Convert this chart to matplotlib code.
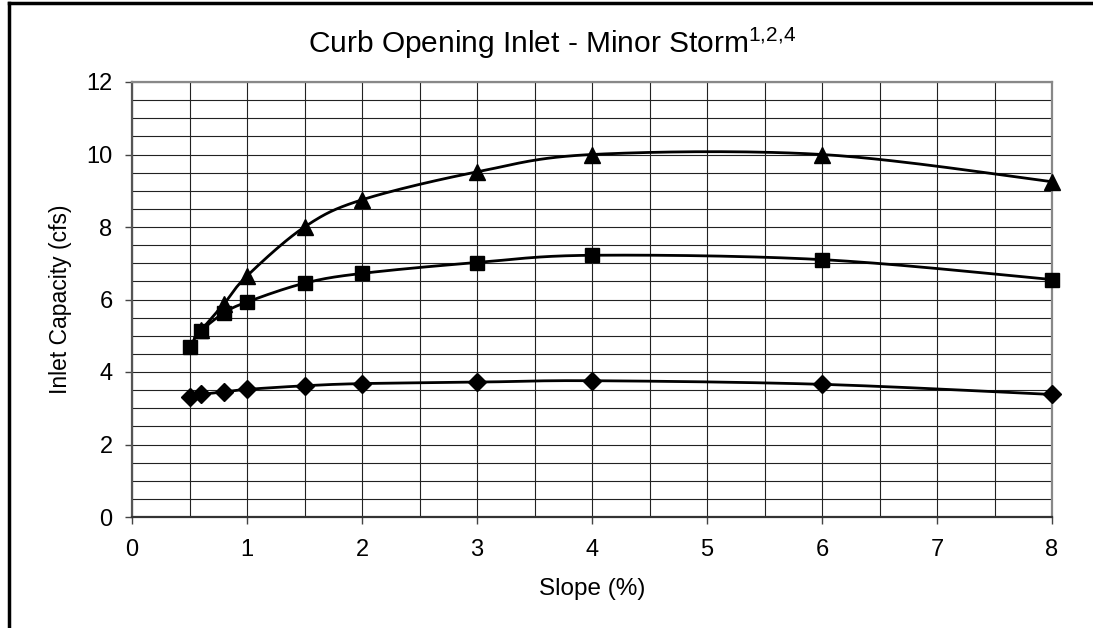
import numpy as np
import matplotlib.pyplot as plt
from matplotlib.lines import Line2D

plt.rcParams['font.family'] = ['Liberation Sans', 'DejaVu Sans']
plt.rcParams['mathtext.fontset'] = 'custom'
plt.rcParams['mathtext.rm'] = 'Liberation Sans'
plt.rcParams['mathtext.it'] = 'Liberation Sans'

# data
slope_diamond = [0.5, 0.6, 0.8, 1, 1.5, 2, 3, 4, 6, 8]
cap_diamond = [3.30, 3.38, 3.45, 3.52, 3.62, 3.68, 3.72, 3.76, 3.66, 3.38]

slope_square = [0.5, 0.6, 0.8, 1, 1.5, 2, 3, 4, 6, 8]
cap_square = [4.70, 5.13, 5.63, 5.93, 6.45, 6.72, 7.02, 7.22, 7.10, 6.55]

slope_tri = [0.6, 0.8, 1, 1.5, 2, 3, 4, 6, 8]
cap_tri = [5.15, 5.88, 6.65, 8.00, 8.75, 9.52, 10.0, 10.0, 9.25]

x_ticks = [0, 1, 2, 3, 4, 5, 6, 7, 8]
y_ticks = [0, 2, 4, 6, 8, 10, 12]

W, H = 1093, 628
fig = plt.figure(figsize=(W / 100, H / 100), dpi=100)
ax = fig.add_axes([132 / W, 1 - 517 / H, 920 / W, 435 / H])

# excel-like smoothed line (bezier through the points, in screen scale)
def smooth(xs, ys, sx=115.0, sy=36.25, n=30):
    p = np.column_stack([np.array(xs) * sx, np.array(ys) * sy])
    out = []
    for i in range(len(p) - 1):
        p0 = p[i - 1] if i > 0 else p[i]
        p1, p2 = p[i], p[i + 1]
        p3 = p[i + 2] if i + 2 < len(p) else p[i + 1]
        c1 = p1 + (p2 - p0) / 6
        c2 = p2 - (p3 - p1) / 6
        t = np.linspace(0, 1, n)[:, None]
        seg = (1 - t) ** 3 * p1 + 3 * (1 - t) ** 2 * t * c1 + 3 * (1 - t) * t ** 2 * c2 + t ** 3 * p2
        out.append(seg if i == 0 else seg[1:])
    out = np.vstack(out)
    return out[:, 0] / sx, out[:, 1] / sy

for xs, ys, mk, ms in [(slope_diamond, cap_diamond, 'D', 9),
                       (slope_square, cap_square, 's', 10),
                       (slope_tri, cap_tri, '^', 11)]:
    sx_, sy_ = smooth(xs, ys)
    ax.plot(sx_, sy_, color='black', lw=2, zorder=3, clip_on=False)
    ax.plot(xs, ys, ls='none', marker=mk, ms=ms, color='black', zorder=4, clip_on=False)

ax.set_xlim(0, 8)
ax.set_ylim(0, 12)
ax.set_xticks(x_ticks)
ax.set_yticks(y_ticks)
ax.set_xticks(np.arange(0, 8.01, 0.5), minor=True)
ax.set_yticks(np.arange(0, 12.01, 0.5), minor=True)
ax.grid(which='both', color='#222222', lw=0.8)
ax.set_axisbelow(True)
ax.tick_params(which='minor', length=0)
ax.tick_params(which='major', direction='out', length=5, width=1, color='#444444',
               labelsize=17)
ax.tick_params(axis='y', pad=9)
ax.tick_params(axis='x', pad=11)
ax.spines['left'].set_color('#555555')
ax.spines['bottom'].set_color('#333333')
ax.spines['top'].set_color('#888888')
ax.spines['right'].set_color('#888888')
for s in ax.spines.values():
    s.set_linewidth(1.6)

ax.set_xlabel('Slope (%)', fontsize=17.5, labelpad=12)
ax.set_ylabel('Inlet Capacity (cfs)', fontsize=16.5, labelpad=10)
fig.text(0.505, 1 - 43 / H, 'Curb Opening Inlet - Minor Storm$^{1{,}2{,}4}$',
         ha='center', va='center', fontsize=21.5)

# frame around the chart (top and left visible)
fig.add_artist(Line2D([9 / W, 9 / W], [0, 1 - 3 / H], color='black', lw=2.5))
fig.add_artist(Line2D([9 / W, 1], [1 - 3 / H, 1 - 3 / H], color='black', lw=2.5))

fig.savefig('out.png', dpi=100)
